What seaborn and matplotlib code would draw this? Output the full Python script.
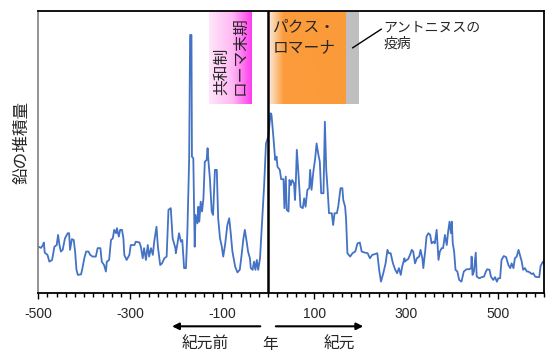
import numpy as np
import matplotlib
matplotlib.use("Agg")
import matplotlib.pyplot as plt
from matplotlib.colors import LinearSegmentedColormap
import seaborn as sns

# -----------------------------
# DATA
# -----------------------------
years = [
    -500, -494, -490, -488, -486, -480, -476, -470, -465, -460,
    -457, -454, -451, -447, -442, -436, -433, -431, -427, -423,
    -420, -417, -414, -407, -404, -400, -396, -391, -387, -382,
    -375, -371, -365, -362, -357, -353, -351, -346, -342, -338,
    -335, -331, -329, -325, -322, -318, -315, -313, -308, -302,
    -299, -291, -288, -280, -277, -273, -270, -266, -262, -259,
    -255, -251, -248, -243, -240, -235, -231, -226, -221, -217,
    -212, -208, -202, -201, -198, -194, -190, -187, -183, -179,
    -176, -172, -170, -167, -166, -163, -160, -158, -154, -152,
    -150, -147, -144, -141, -138, -134, -132, -130, -127, -123,
    -120, -116, -112, -109, -105, -101, -98, -94, -89, -85,
    -82, -78, -72, -67, -62, -58, -54, -51, -47, -44,
    -40, -38, -34, -31, -28, -25, -22, -18, -14, -9,
    -5, 0, 5, 7, 11, 15, 18, 20, 25, 28,
    33, 35, 38, 40, 44, 46, 49, 52, 56, 58,
    60, 62, 65, 67, 70, 75, 78, 81, 85, 89,
    91, 94, 98, 102, 105, 109, 112, 115, 120, 123,
    126, 129, 132, 138, 141, 144, 149, 152, 157, 161,
    163, 167, 169, 172, 178, 183, 189, 194, 199, 203,
    210, 216, 221, 226, 232, 237, 241, 245, 250, 255,
    259, 262, 266, 271, 276, 280, 284, 288, 291, 296,
    297, 301, 304, 308, 312, 315, 319, 323, 328, 331,
    335, 337, 341, 344, 348, 352, 355, 359, 362, 366,
    370, 373, 377, 380, 384, 388, 391, 394, 397, 399,
    401, 404, 407, 411, 415, 420, 425, 431, 437, 441,
    442, 444, 447, 451, 453, 459, 464, 469, 473, 476,
    481, 484, 489, 493, 497, 500, 504, 507, 512, 517,
    522, 526, 529, 533, 536, 540, 544, 547, 551, 554,
    558, 562, 565, 569, 573, 576, 580, 585, 589, 592,
    597, 600,
]
lead = [
    16.3, 15.9, 16.9, 17.8, 14.2, 13.4, 11.0, 11.6, 16.3, 16.9,
    20.5, 16.9, 14.6, 15.2, 19.3, 21.1, 21.1, 15.2, 19.0, 18.7,
    14.6, 8.1, 6.3, 6.5, 8.7, 12.2, 14.6, 14.6, 13.4, 12.8,
    12.8, 15.8, 15.8, 11.0, 9.8, 7.5, 11.0, 11.6, 18.7, 19.3,
    22.3, 21.1, 22.9, 19.9, 22.3, 22.3, 19.3, 13.4, 11.6, 13.4,
    16.9, 16.9, 18.1, 17.8, 16.3, 12.2, 15.8, 11.6, 16.9, 12.8,
    15.8, 13.4, 18.1, 23.4, 16.3, 9.8, 10.4, 12.2, 12.8, 29.4,
    30.0, 19.3, 15.8, 14.0, 16.9, 21.1, 18.1, 18.7, 8.7, 8.7,
    21.1, 47.7, 91.5, 91.5, 48.3, 47.7, 16.3, 27.6, 24.6, 30.5,
    25.2, 32.3, 28.8, 33.5, 46.5, 47.1, 51.3, 46.5, 40.6, 28.8,
    27.6, 43.6, 43.6, 26.4, 19.3, 16.3, 12.8, 16.9, 24.0, 26.4,
    21.7, 14.6, 9.2, 7.2, 8.1, 13.4, 19.3, 22.3, 18.1, 14.6,
    12.2, 8.7, 8.1, 11.0, 8.1, 11.6, 8.1, 12.2, 24.0, 38.2,
    53.0, 55.4, 63.7, 63.1, 55.4, 47.1, 48.3, 44.7, 43.6, 40.3,
    40.3, 30.0, 41.2, 29.4, 28.8, 40.0, 38.2, 40.0, 38.8, 32.9,
    40.0, 50.7, 43.6, 38.2, 30.5, 30.0, 33.5, 30.5, 36.5, 37.1,
    43.6, 36.5, 43.0, 47.7, 53.0, 48.9, 46.5, 35.3, 35.3, 60.7,
    43.6, 36.5, 28.2, 28.2, 24.0, 28.2, 28.2, 30.5, 37.1, 37.1,
    32.9, 30.5, 26.4, 14.0, 12.8, 14.0, 14.6, 17.5, 17.8, 14.6,
    14.2, 14.0, 12.2, 13.4, 13.7, 14.0, 8.1, 3.9, 6.9, 10.4,
    15.2, 14.0, 14.0, 10.4, 8.1, 6.9, 8.7, 6.3, 9.2, 12.2,
    11.0, 11.6, 11.9, 13.4, 15.2, 14.6, 10.4, 12.2, 12.8, 15.2,
    12.2, 8.7, 14.6, 19.9, 21.1, 20.5, 17.5, 18.1, 17.5, 22.3,
    11.6, 14.6, 15.8, 15.8, 20.5, 16.9, 21.7, 25.2, 21.1, 25.2,
    17.5, 14.6, 8.1, 7.5, 4.5, 3.9, 7.5, 8.3, 8.3, 8.7,
    12.8, 6.3, 7.5, 14.2, 5.7, 5.1, 5.5, 5.7, 7.5, 8.3,
    8.1, 5.7, 4.5, 5.5, 3.9, 5.1, 5.1, 11.6, 13.0, 12.6,
    9.8, 8.7, 10.4, 8.7, 12.2, 12.8, 15.2, 13.4, 11.0, 8.1,
    8.7, 7.5, 7.5, 7.1, 6.6, 6.9, 5.7, 5.5, 5.5, 9.5,
    11.0, 10.4,
]

# periods (start year, end year)
republic_end = (-128, -36)
pax_romana = (4, 169)
antonine_plague = (169, 197)

xticks = [-500, -300, -100, 100, 300, 500]

# -----------------------------
# STYLE
# -----------------------------
sns.set_theme(style="white")
plt.rcParams["font.family"] = ["Noto Sans CJK JP", "DejaVu Sans"]

fig = plt.figure(figsize=(5.55, 3.56), dpi=100)
ax = fig.add_axes([0.069, 0.178, 0.9117, 0.791])

band_bottom = 67


def gradient_band(ax, span, stops, colors):
    cmap = LinearSegmentedColormap.from_list("band", list(zip(stops, colors)))
    grad = np.linspace(0, 1, 256).reshape(1, -1)
    ax.imshow(grad, extent=(span[0], span[1], band_bottom, 100),
              aspect="auto", cmap=cmap, origin="lower", zorder=1)


gradient_band(ax, republic_end, [0, 0.55, 1], ["#ffe6fa", "#ffb8f3", "#ff3cee"])
gradient_band(ax, pax_romana, [0, 0.18, 1], ["#fde4cc", "#fb9c3c", "#fb9a38"])
ax.axvspan(antonine_plague[0], antonine_plague[1], ymin=band_bottom / 100, ymax=1,
           color="#bfbfbf", lw=0, zorder=1)

# -----------------------------
# LEAD LINE
# -----------------------------
sns.lineplot(x=years, y=lead, ax=ax, color="#4472c4", linewidth=1.3,
             estimator=None, sort=False, zorder=2)

ax.axvline(0, color="black", lw=1.8, zorder=3)

ax.set_xlim(-500, 600)
ax.set_ylim(0, 100)

# -----------------------------
# AXES
# -----------------------------
ax.set_xticks(xticks)
ax.set_xticks(range(-500, 601, 20), minor=True)
ax.set_xticklabels([str(t) for t in xticks], fontfamily="Liberation Sans", fontsize=10)
ax.set_yticks([])
ax.tick_params(axis="x", which="major", direction="out", length=4, width=1,
               color="black", pad=6, bottom=True)
ax.tick_params(axis="x", which="minor", direction="out", length=3, width=1,
               color="black", bottom=True)
ax.set_xlabel("")
ax.set_ylabel("")

for side in ["top", "right", "bottom"]:
    ax.spines[side].set_color("black")
    ax.spines[side].set_linewidth(1.3)
ax.spines["left"].set_color("#808080")
ax.spines["left"].set_linewidth(1.2)

# -----------------------------
# LABELS
# -----------------------------
ax.text(9, 90.8, "パクス・\nロマーナ", fontsize=11.3, ha="left", va="center",
        linespacing=1.27, zorder=4)
ax.text(-82, 70.2, "共和制\nローマ末期", fontsize=11.3, rotation=90, ha="center",
        va="bottom", multialignment="left", linespacing=1.08, zorder=4)
ax.text(251, 91.2, "アントニヌスの\n疫病", fontsize=10, ha="left", va="center",
        linespacing=1.22, zorder=4)
ax.plot([183, 246], [86.9, 93.6], color="black", lw=1, zorder=4)

fig.text(0.039, 0.600, "鉛の堆積量", fontsize=12, rotation=90, ha="center", va="center")

# arrows below the axis
ax.annotate("", xy=(0.305, 0.0834), xytext=(0.474, 0.0834),
            xycoords="figure fraction", textcoords="figure fraction",
            arrowprops=dict(arrowstyle="-|>", color="black", lw=1.5, mutation_scale=10))
ax.annotate("", xy=(0.6595, 0.0834), xytext=(0.492, 0.0834),
            xycoords="figure fraction", textcoords="figure fraction",
            arrowprops=dict(arrowstyle="-|>", color="black", lw=1.5, mutation_scale=10))
fig.text(0.3694, 0.033, "紀元前", fontsize=11.3, ha="center", va="center")
fig.text(0.4874, 0.033, "年", fontsize=11.3, ha="center", va="center")
fig.text(0.6108, 0.033, "紀元", fontsize=11.3, ha="center", va="center")

plt.savefig("out.png", dpi=100)
